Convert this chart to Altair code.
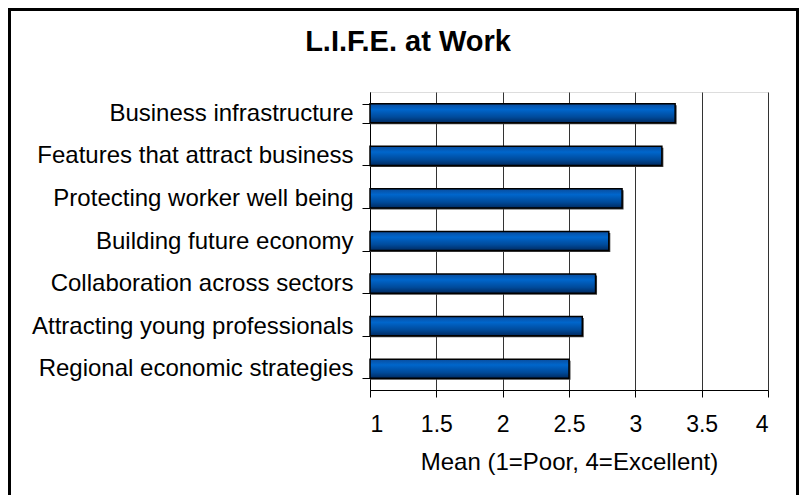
import altair as alt
import pandas as pd

categories = [
    "Business infrastructure",
    "Features that attract business",
    "Protecting worker well being",
    "Building future economy",
    "Collaboration across sectors",
    "Attracting young professionals",
    "Regional economic strategies",
]
means = [3.3, 3.2, 2.9, 2.8, 2.7, 2.6, 2.5]
x_ticks = [1, 1.5, 2, 2.5, 3, 3.5, 4]

df = pd.DataFrame({"item": categories, "mean": means})

FONT = "Liberation Sans"
W, H = 398, 298

x_enc = alt.X(
    "mean:Q",
    scale=alt.Scale(domain=[1, 4], zero=False, nice=False),
    axis=alt.Axis(
        values=x_ticks,
        format="~g",
        title="Mean (1=Poor, 4=Excellent)",
        grid=True,
        gridColor="#333333",
        gridWidth=1,
        domainColor="black",
        tickColor="black",
        tickSize=7,
        labelPadding=16,
        labelFontSize=23,
        labelColor="black",
        labelFont=FONT,
        titleFont=FONT,
        titleFontSize=24,
        titleFontWeight="normal",
        titleColor="black",
        titlePadding=14,
    ),
)
y_enc = alt.Y(
    "item:N",
    sort=categories,
    scale=alt.Scale(paddingInner=0.55, paddingOuter=0.275),
    axis=alt.Axis(
        title=None,
        tickBand="extent",
        domainColor="black",
        tickColor="black",
        tickSize=8,
        labelPadding=9,
        labelFontSize=24,
        labelLimit=0,
        labelColor="black",
        labelFont=FONT,
        grid=False,
    ),
)

gradient = alt.Gradient(
    gradient="linear",
    stops=[
        alt.GradientStop(color="#0a4c9c", offset=0),
        alt.GradientStop(color="#0066cc", offset=0.3),
        alt.GradientStop(color="#004a9a", offset=0.7),
        alt.GradientStop(color="#002a60", offset=1),
    ],
    x1=0, x2=0, y1=0, y2=1,
)

base = alt.Chart(df)

shadow = base.mark_bar(color="#404040", xOffset=1.5, yOffset=1.5).encode(
    x=x_enc, x2=alt.datum(1), y=y_enc
)
bars = base.mark_bar(color=gradient, stroke="black", strokeWidth=1.5).encode(
    x=x_enc, x2=alt.datum(1), y=y_enc
)

frame = alt.Chart(pd.DataFrame({"k": [0]})).mark_rect(
    filled=False, stroke="black", strokeWidth=3
).encode(
    x=alt.value(-360.5), x2=alt.value(427.5), y=alt.value(-82.5), y2=alt.value(430)
)

chart = (
    alt.layer(shadow, bars, frame)
    .properties(
        width=W,
        height=H,
        autosize=alt.AutoSizeParams(type="none"),
        padding={"left": 362, "top": 84, "right": 31, "bottom": 105},
        title=alt.TitleParams(
            "L.I.F.E. at Work",
            font=FONT,
            fontSize=29,
            fontWeight="bold",
            color="black",
            anchor="middle",
            frame="group",
            baseline="alphabetic",
            dx=-161,
            offset=-71.5,
        ),
    )
    .configure_view(stroke=None)
    .configure(background="white")
)

chart.save("out.html", embed_options={"renderer": "svg", "actions": False})
